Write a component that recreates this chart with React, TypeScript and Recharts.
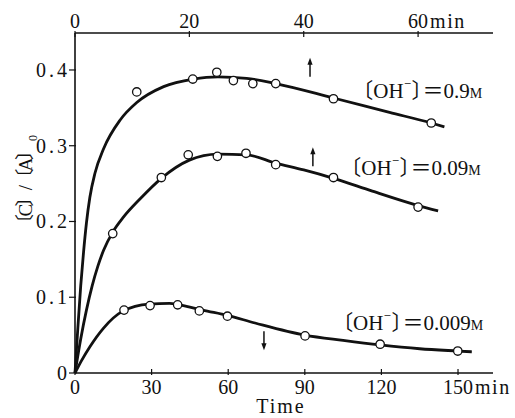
import React from "react";
import {
  ComposedChart,
  Line,
  ReferenceDot,
  Scatter,
  XAxis,
  YAxis,
} from "recharts";

const SERIF = '"Liberation Serif", "Times New Roman", "DejaVu Serif", "Noto Sans CJK JP", serif';
const INK = "#111";

// bottom axis: 0–150 min (used by 0.009 M), top axis: 0–60 min (used by 0.9 M and 0.09 M)
const bottomTicks = [0, 30, 60, 90, 120, 150];
const topTicks = [0, 20, 40, 60];
const yTicks = [0, 0.1, 0.2, 0.3, 0.4];

// measured points (circles)
const pts0_9 = [
  { t: 10.8, c: 0.371 },
  { t: 20.6, c: 0.388 },
  { t: 24.8, c: 0.397 },
  { t: 27.7, c: 0.386 },
  { t: 31.1, c: 0.382 },
  { t: 35.1, c: 0.382 },
  { t: 45.2, c: 0.362 },
  { t: 62.3, c: 0.33 },
];
const pts0_09 = [
  { t: 6.6, c: 0.184 },
  { t: 15.1, c: 0.258 },
  { t: 19.8, c: 0.288 },
  { t: 24.9, c: 0.286 },
  { t: 29.9, c: 0.29 },
  { t: 35.1, c: 0.275 },
  { t: 45.2, c: 0.258 },
  { t: 60.0, c: 0.219 },
];
const pts0_009 = [
  { t: 19.2, c: 0.083 },
  { t: 29.4, c: 0.089 },
  { t: 40.2, c: 0.09 },
  { t: 48.7, c: 0.082 },
  { t: 59.7, c: 0.075 },
  { t: 90.1, c: 0.049 },
  { t: 119.5, c: 0.038 },
  { t: 149.9, c: 0.029 },
];

// fitted curves
const curve0_9 = [
  { t: 0, c: 0 },
  { t: 0.5, c: 0.06 },
  { t: 1, c: 0.115 },
  { t: 1.5, c: 0.16 },
  { t: 2, c: 0.198 },
  { t: 2.6, c: 0.232 },
  { t: 3.5, c: 0.264 },
  { t: 5, c: 0.296 },
  { t: 7.9, c: 0.334 },
  { t: 10.8, c: 0.357 },
  { t: 15.5, c: 0.378 },
  { t: 20.7, c: 0.388 },
  { t: 25, c: 0.391 },
  { t: 30, c: 0.389 },
  { t: 35.1, c: 0.382 },
  { t: 45.2, c: 0.363 },
  { t: 55, c: 0.344 },
  { t: 62.3, c: 0.33 },
  { t: 64.6, c: 0.325 },
];
const curve0_09 = [
  { t: 0, c: 0 },
  { t: 1, c: 0.045 },
  { t: 2, c: 0.083 },
  { t: 3, c: 0.115 },
  { t: 4, c: 0.141 },
  { t: 5, c: 0.162 },
  { t: 6.6, c: 0.186 },
  { t: 8.5, c: 0.206 },
  { t: 11.4, c: 0.23 },
  { t: 15.1, c: 0.257 },
  { t: 20, c: 0.281 },
  { t: 25, c: 0.289 },
  { t: 30, c: 0.288 },
  { t: 35.1, c: 0.277 },
  { t: 40, c: 0.268 },
  { t: 45.2, c: 0.257 },
  { t: 52, c: 0.24 },
  { t: 60, c: 0.221 },
  { t: 63.5, c: 0.214 },
];
const curve0_009 = [
  { t: 0, c: 0 },
  { t: 2.5, c: 0.016 },
  { t: 5.9, c: 0.035 },
  { t: 11.1, c: 0.059 },
  { t: 18.9, c: 0.082 },
  { t: 29, c: 0.091 },
  { t: 37, c: 0.092 },
  { t: 45, c: 0.087 },
  { t: 50, c: 0.083 },
  { t: 59.7, c: 0.076 },
  { t: 70.5, c: 0.066 },
  { t: 90, c: 0.05 },
  { t: 105, c: 0.043 },
  { t: 119.5, c: 0.037 },
  { t: 135, c: 0.032 },
  { t: 150, c: 0.029 },
  { t: 155.4, c: 0.028 },
];

const bottomMax = 163.7;
const topMax = 73.1;
const yMax = 0.4488;

function BottomTick(props: any) {
  const { x, y, payload } = props;
  const v = payload.value;
  return (
    <g>
      <line x1={x} y1={y} x2={x} y2={y - 6} stroke={INK} strokeWidth={1.2} />
      <text x={x} y={y + 19} textAnchor="middle" fontFamily={SERIF} fontSize={20} fill={INK}>
        {v}
      </text>
      {v === 150 && (
        <text x={x + 17} y={y + 19} fontFamily={SERIF} fontSize={20} letterSpacing={1.5} fill={INK}>
          min
        </text>
      )}
    </g>
  );
}

function TopTick(props: any) {
  const { x, y, payload } = props;
  const v = payload.value;
  return (
    <g>
      <line x1={x} y1={y} x2={x} y2={y + 6} stroke={INK} strokeWidth={1.2} />
      <text x={x} y={y - 3} textAnchor="middle" fontFamily={SERIF} fontSize={20} fill={INK}>
        {v}
      </text>
      {v === 60 && (
        <text x={x + 12} y={y - 3} fontFamily={SERIF} fontSize={20} letterSpacing={1.5} fill={INK}>
          min
        </text>
      )}
    </g>
  );
}

function LeftTick(props: any) {
  const { x, y, payload } = props;
  const v = payload.value;
  return (
    <g>
      <line x1={x - 4} y1={y} x2={x + 3} y2={y} stroke={INK} strokeWidth={1.2} />
      <text x={x - 3} y={y + 7} textAnchor="end" fontFamily={SERIF} fontSize={20} letterSpacing={3} fill={INK}>
        {v === 0 ? "0" : v.toFixed(1)}
      </text>
    </g>
  );
}

function Circ(props: any) {
  const { cx, cy } = props;
  return <circle cx={cx} cy={cy} r={4.2} fill="#fff" stroke={INK} strokeWidth={1.3} />;
}

const arrowShape = (up: boolean) => (p: any) => {
  const { cx, cy } = p;
  const s = up ? 1 : -1;
  return (
    <g>
      <line x1={cx} y1={cy + s * 4} x2={cx} y2={cy + s * 19} stroke={INK} strokeWidth={1.5} />
      <path d={`M${cx} ${cy} L${cx - 2.6} ${cy + s * 7} L${cx + 2.6} ${cy + s * 7} Z`} fill={INK} />
    </g>
  );
};

const concLabel = (conc: string) => (p: any) => {
  const { cx, cy } = p;
  return (
    <text x={cx} y={cy} fontFamily={SERIF} fontSize={21} fill={INK}>
      〔OH
      <tspan fontSize={15} dy={-6}>⁻</tspan>
      <tspan dy={6} letterSpacing={-10}>〕</tspan>
      ＝{conc}
      <tspan fontSize={14}>M</tspan>
    </text>
  );
};

function YTitle() {
  return (
    <g fontFamily={SERIF} fill={INK}>
      <text
        transform="translate(32,187) rotate(-90)"
        textAnchor="middle"
        fontSize={19}
        textLength={92}
        lengthAdjust="spacing"
      >
        〔C〕/〔A〕
      </text>
      <text transform="translate(37,141) rotate(-90)" fontSize={12}>
        0
      </text>
    </g>
  );
}

export default function App() {
  return (
    <div style={{ position: "absolute", left: 0, top: 0, background: "#fff" }}>
      <ComposedChart width={515} height={418} margin={{ top: 0, right: 22, bottom: 0, left: 0 }}>
        <XAxis
          xAxisId="b"
          type="number"
          dataKey="t"
          domain={[0, bottomMax]}
          ticks={bottomTicks}
          interval={0}
          height={45}
          tickSize={0}
          tickLine={false}
          axisLine={{ stroke: INK, strokeWidth: 1.6 }}
          tick={<BottomTick />}
          label={(lp: any) => {
            const vb = lp.viewBox || { x: 75, y: 373, width: 418 };
            return (
              <text
                x={vb.x + vb.width / 2 - 3}
                y={vb.y + 40}
                textAnchor="middle"
                fontFamily={SERIF}
                fontSize={20}
                letterSpacing={2}
                fill={INK}
              >
                Time
              </text>
            );
          }}
        />
        <XAxis
          xAxisId="t"
          orientation="top"
          type="number"
          dataKey="t"
          domain={[0, topMax]}
          ticks={topTicks}
          interval={0}
          height={33}
          tickSize={0}
          tickLine={false}
          axisLine={{ stroke: INK, strokeWidth: 1.6 }}
          tick={<TopTick />}
        />
        <YAxis
          yAxisId="l"
          type="number"
          dataKey="c"
          domain={[0, yMax]}
          ticks={yTicks}
          interval={0}
          width={75}
          tickSize={0}
          tickLine={false}
          axisLine={{ stroke: INK, strokeWidth: 1.6 }}
          tick={<LeftTick />}
          label={() => <YTitle />}
        />
        <YAxis
          yAxisId="r"
          orientation="right"
          type="number"
          dataKey="c"
          domain={[0, yMax]}
          width={0}
          tick={false}
          tickLine={false}
          axisLine={{ stroke: INK, strokeWidth: 1.6 }}
        />

        <Line data={curve0_9} dataKey="c" xAxisId="t" yAxisId="l" type="monotone" stroke={INK} strokeWidth={2.8} dot={false} isAnimationActive={false} />
        <Line data={curve0_09} dataKey="c" xAxisId="t" yAxisId="l" type="monotone" stroke={INK} strokeWidth={2.8} dot={false} isAnimationActive={false} />
        <Line data={curve0_009} dataKey="c" xAxisId="b" yAxisId="l" type="monotone" stroke={INK} strokeWidth={2.8} dot={false} isAnimationActive={false} />

        <Scatter data={pts0_9} dataKey="c" xAxisId="t" yAxisId="l" shape={<Circ />} isAnimationActive={false} />
        <Scatter data={pts0_09} dataKey="c" xAxisId="t" yAxisId="l" shape={<Circ />} isAnimationActive={false} />
        <Scatter data={pts0_009} dataKey="c" xAxisId="b" yAxisId="l" shape={<Circ />} isAnimationActive={false} />

        <ReferenceDot xAxisId="t" yAxisId="l" x={41.1} y={0.416} shape={arrowShape(true)} />
        <ReferenceDot xAxisId="t" yAxisId="l" x={41.6} y={0.298} shape={arrowShape(true)} />
        <ReferenceDot xAxisId="b" yAxisId="l" x={74.0} y={0.030} shape={arrowShape(false)} />

        <ReferenceDot xAxisId="t" yAxisId="l" x={48.5} y={0.363} shape={concLabel("0.9")} />
        <ReferenceDot xAxisId="t" yAxisId="l" x={46.4} y={0.261} shape={concLabel("0.09")} />
        <ReferenceDot xAxisId="b" yAxisId="l" x={100.7} y={0.057} shape={concLabel("0.009")} />
      </ComposedChart>
    </div>
  );
}
